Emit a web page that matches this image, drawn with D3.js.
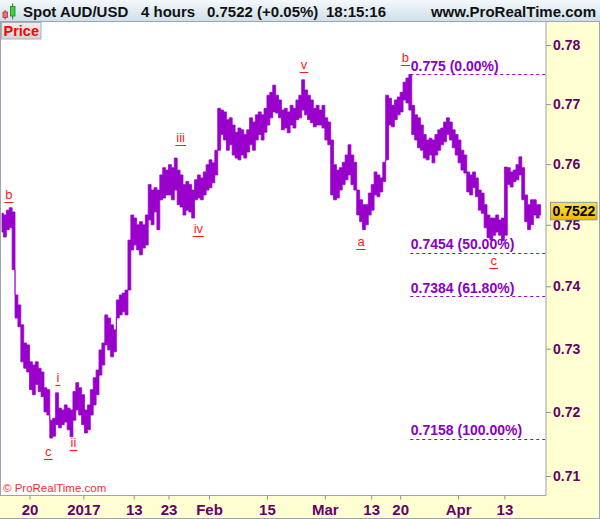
<!DOCTYPE html>
<html>
<head>
<meta charset="utf-8">
<script src="https://cdn.jsdelivr.net/npm/d3@7"></script>
<style>
body { margin: 0; background: #fff; }
svg { display: block; font-family: "Liberation Sans", Arial, sans-serif; }
</style>
</head>
<body>
<svg width="600" height="519"></svg>
<script>
// half-day high / low of AUD/USD, first entry ~ Dec 14 2016 (day index in trading days, 0 = Dec 20)
var startDay = -4.75, stepDay = 0.5;
var highs = [
  0.7519, 0.7516, 0.7524, 0.7528, 0.7521, 0.7386, 0.7370, 0.7338, 0.7309, 0.7306,
  0.7279, 0.7274, 0.7279, 0.7269, 0.7263, 0.7238, 0.7235, 0.7187, 0.7190, 0.7230,
  0.7206, 0.7203, 0.7211, 0.7206, 0.7203, 0.7232, 0.7246, 0.7238, 0.7227, 0.7203,
  0.7211, 0.7235, 0.7254, 0.7266, 0.7298, 0.7309, 0.7354, 0.7349, 0.7338, 0.7330,
  0.7378, 0.7386, 0.7389, 0.7394, 0.7475, 0.7516, 0.7511, 0.7500, 0.7505, 0.7500,
  0.7516, 0.7566, 0.7557, 0.7561, 0.7557, 0.7582, 0.7594, 0.7590, 0.7599, 0.7594,
  0.7610, 0.7590, 0.7582, 0.7566, 0.7571, 0.7566, 0.7557, 0.7574, 0.7582, 0.7577,
  0.7587, 0.7599, 0.7607, 0.7602, 0.7623, 0.7693, 0.7690, 0.7687, 0.7674, 0.7677,
  0.7665, 0.7653, 0.7660, 0.7657, 0.7649, 0.7657, 0.7677, 0.7670, 0.7682, 0.7687,
  0.7682, 0.7693, 0.7715, 0.7720, 0.7732, 0.7715, 0.7707, 0.7690, 0.7693, 0.7687,
  0.7698, 0.7693, 0.7707, 0.7715, 0.7741, 0.7724, 0.7715, 0.7707, 0.7693, 0.7698,
  0.7690, 0.7698, 0.7677, 0.7670, 0.7640, 0.7599, 0.7590, 0.7594, 0.7603, 0.7615,
  0.7632, 0.7615, 0.7603, 0.7557, 0.7541, 0.7533, 0.7533, 0.7552, 0.7566, 0.7587,
  0.7582, 0.7577, 0.7603, 0.7715, 0.7710, 0.7698, 0.7707, 0.7712, 0.7720, 0.7737,
  0.7744, 0.7750, 0.7698, 0.7682, 0.7677, 0.7665, 0.7649, 0.7640, 0.7643, 0.7640,
  0.7649, 0.7657, 0.7660, 0.7670, 0.7677, 0.7670, 0.7657, 0.7649, 0.7640, 0.7623,
  0.7615, 0.7587, 0.7582, 0.7587, 0.7577, 0.7557, 0.7552, 0.7533, 0.7516, 0.7511,
  0.7511, 0.7516, 0.7508, 0.7511, 0.7595, 0.7594, 0.7587, 0.7590, 0.7599, 0.7612,
  0.7594, 0.7549, 0.7533, 0.7541, 0.7541, 0.7533, 0.7533
];
var lows = [
  0.7488, 0.7480, 0.7492, 0.7495, 0.7427, 0.7349, 0.7335, 0.7279, 0.7269, 0.7263,
  0.7235, 0.7227, 0.7243, 0.7232, 0.7224, 0.7200, 0.7195, 0.7159, 0.7162, 0.7180,
  0.7175, 0.7180, 0.7184, 0.7172, 0.7161, 0.7187, 0.7203, 0.7195, 0.7180, 0.7167,
  0.7172, 0.7195, 0.7211, 0.7227, 0.7258, 0.7274, 0.7306, 0.7298, 0.7287, 0.7295,
  0.7349, 0.7354, 0.7359, 0.7354, 0.7394, 0.7459, 0.7467, 0.7459, 0.7451, 0.7462,
  0.7467, 0.7508, 0.7500, 0.7521, 0.7492, 0.7541, 0.7544, 0.7549, 0.7549, 0.7541,
  0.7557, 0.7533, 0.7529, 0.7516, 0.7524, 0.7521, 0.7511, 0.7541, 0.7544, 0.7541,
  0.7549, 0.7557, 0.7561, 0.7569, 0.7582, 0.7623, 0.7649, 0.7640, 0.7623, 0.7632,
  0.7615, 0.7610, 0.7607, 0.7615, 0.7610, 0.7620, 0.7632, 0.7623, 0.7640, 0.7649,
  0.7640, 0.7653, 0.7665, 0.7677, 0.7687, 0.7685, 0.7677, 0.7657, 0.7660, 0.7652,
  0.7665, 0.7660, 0.7674, 0.7677, 0.7690, 0.7682, 0.7674, 0.7669, 0.7662, 0.7665,
  0.7665, 0.7660, 0.7640, 0.7632, 0.7549, 0.7541, 0.7544, 0.7557, 0.7566, 0.7574,
  0.7582, 0.7566, 0.7557, 0.7516, 0.7505, 0.7492, 0.7500, 0.7516, 0.7524, 0.7549,
  0.7546, 0.7554, 0.7571, 0.7607, 0.7665, 0.7662, 0.7674, 0.7682, 0.7687, 0.7707,
  0.7702, 0.7690, 0.7649, 0.7640, 0.7627, 0.7623, 0.7610, 0.7607, 0.7615, 0.7602,
  0.7615, 0.7623, 0.7632, 0.7637, 0.7649, 0.7640, 0.7627, 0.7615, 0.7602, 0.7590,
  0.7585, 0.7554, 0.7549, 0.7561, 0.7546, 0.7524, 0.7519, 0.7495, 0.7479, 0.7475,
  0.7483, 0.7488, 0.7483, 0.7474, 0.7483, 0.7566, 0.7562, 0.7571, 0.7574, 0.7582,
  0.7541, 0.7505, 0.7492, 0.7500, 0.7516, 0.7511, 0.7516
];
var lastPrice = 0.7522;

var yTicks = [0.71, 0.72, 0.73, 0.74, 0.75, 0.76, 0.77, 0.78];
var xTickDays = [0, 9.3, 18, 24, 31, 41, 51, 59, 64, 74, 82];
var xTickLabels = ["20", "2017", "13", "23", "Feb", "15", "Mar", "13", "20", "Apr", "13"];

// Elliott wave labels (day index, price of the underline)
var waveText = ["b", "c", "i", "ii", "iii", "iv", "v", "a", "b", "c"];
var waveDay = [-3.55, 3.25, 4.9, 7.6, 26.1, 29.15, 47.4, 57.25, 64.9, 80.15];
var wavePrice = [0.7538, 0.7127, 0.7243, 0.7141, 0.7632, 0.7482, 0.7754, 0.7461, 0.7766, 0.7430];

// Fibonacci retracement levels
var fibPrice = [0.775, 0.7454, 0.7384, 0.7158];
var fibLabel = ["0.775", "0.7454", "0.7384", "0.7158"];
var fibPct = ["0.00%", "50.00%", "61.80%", "100.00%"];
var fibStartDay = 65.75;

var svg = d3.select("svg"),
    plotR = 545.5, plotT = 22, plotB = 495,
    purple = "#9900cc", axisInk = "#660066", borderCol = "#9aa5b1";

var x = d3.scaleLinear().domain([0, 82]).range([29.5, 504.4]);
var y = d3.scaleLog().domain([0.71, 0.78]).range([476, 45]);

var defs = svg.append("defs");
var hg = defs.append("linearGradient").attr("id", "hdr").attr("x1", 0).attr("y1", 0).attr("x2", 0).attr("y2", 1);
hg.append("stop").attr("offset", "0%").attr("stop-color", "#f4f8fb");
hg.append("stop").attr("offset", "100%").attr("stop-color", "#cddfe9");
var gg = defs.append("linearGradient").attr("id", "gold").attr("x1", 0).attr("y1", 0).attr("x2", 0).attr("y2", 1);
gg.append("stop").attr("offset", "0%").attr("stop-color", "#ffe040");
gg.append("stop").attr("offset", "100%").attr("stop-color", "#f2b800");
var pg = defs.append("linearGradient").attr("id", "pbox").attr("x1", 0).attr("y1", 0).attr("x2", 0).attr("y2", 1);
pg.append("stop").attr("offset", "0%").attr("stop-color", "#eeeeee");
pg.append("stop").attr("offset", "100%").attr("stop-color", "#d4d4d4");
defs.append("clipPath").attr("id", "clip")
  .append("rect").attr("x", 0).attr("y", plotT).attr("width", plotR).attr("height", plotB - plotT);

// backgrounds
svg.append("rect").attr("width", 600).attr("height", 519).attr("fill", "#ffffd2");
svg.append("rect").attr("x", 0).attr("y", plotT).attr("width", plotR).attr("height", plotB - plotT).attr("fill", "#fff");

// header
svg.append("rect").attr("width", 600).attr("height", plotT).attr("fill", "url(#hdr)");
svg.append("line").attr("x1", 0).attr("x2", 600).attr("y1", plotT - 0.5).attr("y2", plotT - 0.5).attr("stroke", borderCol);

svg.append("line").attr("x1", 5.2).attr("x2", 5.2).attr("y1", 10).attr("y2", 19.5).attr("stroke", "#b03030");
svg.append("rect").attr("x", 3).attr("y", 12).attr("width", 4.5).attr("height", 5.5).attr("fill", "#f07070").attr("stroke", "#b03030").attr("stroke-width", 0.8);
svg.append("line").attr("x1", 12.7).attr("x2", 12.7).attr("y1", 3.5).attr("y2", 19.5).attr("stroke", "#208020");
svg.append("rect").attr("x", 10.5).attr("y", 6.5).attr("width", 4.5).attr("height", 9.5).attr("fill", "#40d040").attr("stroke", "#208020").attr("stroke-width", 0.8);

var hdrText = [["Spot AUD/USD", 23], ["4 hours", 141], ["0.7522 (+0.05%)", 207], ["18:15:16", 326]];
svg.selectAll(".hdr").data(hdrText).enter().append("text")
  .attr("class", "hdr")
  .attr("x", function(d){ return d[1]; })
  .attr("y", 17)
  .attr("font-size", "15px").attr("font-weight", "bold").attr("fill", "#111")
  .text(function(d){ return d[0]; });
svg.append("text").attr("x", 596).attr("y", 17).attr("text-anchor", "end")
  .attr("font-size", "15px").attr("font-weight", "bold").attr("fill", "#111")
  .text("www.ProRealTime.com");

// "Price" tag
svg.append("rect").attr("x", 1.5).attr("y", 22.5).attr("width", 39.5).attr("height", 16.5)
  .attr("fill", "url(#pbox)").attr("stroke", "#a8b0b8");
svg.append("text").attr("x", 3.5).attr("y", 36).attr("font-size", "14.5px").attr("font-weight", "bold")
  .attr("fill", "#ff0000").text("Price");

// price band: high/low of each half-day, stepped so every bar keeps vertical edges
var g = svg.append("g").attr("clip-path", "url(#clip)");
var band = d3.area()
  .curve(d3.curveStep)
  .x(function(d, i){ return x(startDay + i * stepDay); })
  .y0(function(d, i){ return y(lows[i]); })
  .y1(function(d){ return y(d); });
g.append("path").datum(highs)
  .attr("d", band)
  .attr("fill", purple)
  .attr("stroke", purple)
  .attr("stroke-width", 0.8);

// fibonacci levels
var fx = x(fibStartDay);
fibPrice.forEach(function(p, i){
  g.append("line")
    .attr("x1", fx).attr("x2", plotR)
    .attr("y1", Math.round(y(p)) + 0.5).attr("y2", Math.round(y(p)) + 0.5)
    .attr("stroke", purple).attr("stroke-dasharray", "3,3");
  g.append("text")
    .attr("x", fx + 0.5).attr("y", y(p) - 3.5)
    .attr("font-size", "14px").attr("font-weight", "bold").attr("fill", "#8a00c4")
    .text(fibLabel[i] + " (" + fibPct[i] + ")");
});

// wave labels
waveText.forEach(function(t, i){
  var cx = x(waveDay[i]), cy = y(wavePrice[i]);
  var txt = g.append("text")
    .attr("x", cx).attr("y", cy - 3)
    .attr("text-anchor", "middle")
    .attr("font-size", "13px").attr("fill", "#ff1a1a")
    .text(t);
  var w = txt.node().getComputedTextLength();
  g.append("line")
    .attr("x1", cx - w / 2 - 1).attr("x2", cx + w / 2 + 1)
    .attr("y1", Math.round(cy) + 0.5).attr("y2", Math.round(cy) + 0.5)
    .attr("stroke", "#ff1a1a").attr("stroke-width", 1.2);
});

svg.append("text").attr("x", 3).attr("y", 492).attr("font-size", "11.5px").attr("fill", "#ee3030")
  .text("\u00a9 ProRealTime.com");

// plot borders
svg.append("line").attr("x1", 0.5).attr("x2", 0.5).attr("y1", plotT).attr("y2", plotB).attr("stroke", borderCol);
svg.append("line").attr("x1", plotR + 0.5).attr("x2", plotR + 0.5).attr("y1", plotT).attr("y2", plotB + 0.5).attr("stroke", borderCol);
svg.append("line").attr("x1", 0).attr("x2", plotR + 0.5).attr("y1", plotB + 0.5).attr("y2", plotB + 0.5).attr("stroke", borderCol);
svg.append("line").attr("x1", 599.5).attr("x2", 599.5).attr("y1", plotT).attr("y2", 519).attr("stroke", borderCol);
svg.append("line").attr("x1", 0).attr("x2", 600).attr("y1", 518.5).attr("y2", 518.5).attr("stroke", borderCol);

// y axis
var ya = svg.append("g")
  .attr("transform", "translate(" + (plotR + 0.5) + ",0)")
  .call(d3.axisRight(y).tickValues(yTicks).tickSize(5).tickPadding(2).tickFormat(d3.format(".2f")));
ya.select(".domain").remove();
ya.selectAll("line").attr("stroke", "#8a949e");
ya.selectAll("text").attr("font-size", "14px").attr("font-weight", "bold").attr("fill", axisInk)
  .attr("font-family", "'Liberation Sans', Arial, sans-serif");

// x axis
var xa = svg.append("g")
  .attr("transform", "translate(0," + (plotB + 0.5) + ")")
  .call(d3.axisBottom(x).tickValues(xTickDays).tickSize(4).tickPadding(5)
    .tickFormat(function(d, i){ return xTickLabels[i]; }));
xa.select(".domain").remove();
xa.selectAll("line").attr("stroke", "#8a949e");
xa.selectAll("text").attr("font-size", "15px").attr("font-weight", "bold").attr("fill", axisInk)
  .attr("font-family", "'Liberation Sans', Arial, sans-serif");

// last price tag
var ly = y(lastPrice);
svg.append("rect").attr("x", 550.5).attr("y", ly - 9).attr("width", 46.5).attr("height", 17.5)
  .attr("fill", "url(#gold)").attr("stroke", "#8c98a4");
svg.append("text").attr("x", 552.5).attr("y", ly + 5).attr("font-size", "14px").attr("font-weight", "bold")
  .attr("fill", "#000").text(d3.format(".4f")(lastPrice));
</script>
</body>
</html>
